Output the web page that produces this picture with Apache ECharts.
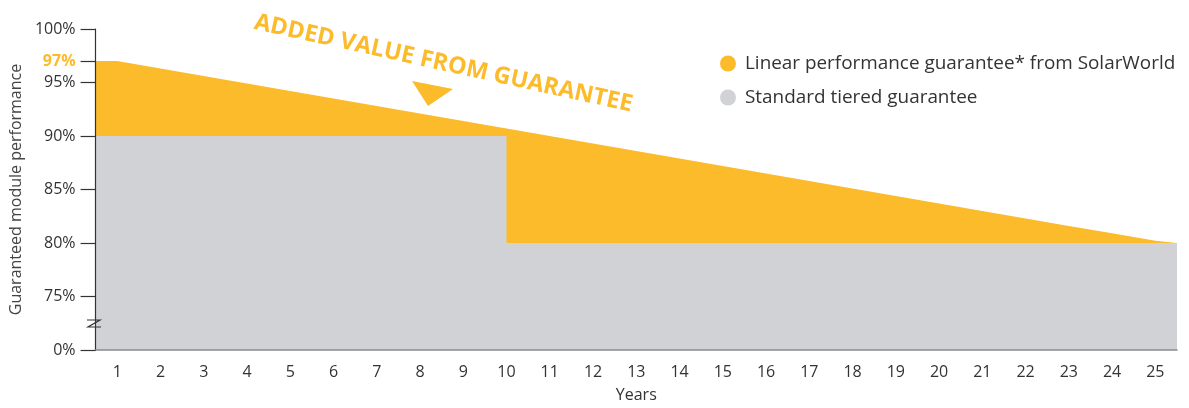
<!DOCTYPE html>
<html>
<head>
<meta charset="utf-8">
<script src="https://cdn.jsdelivr.net/npm/echarts@6/dist/echarts.min.js"></script>
<style>
  html, body { margin: 0; padding: 0; background: #fff; }
  #chart { width: 1189px; height: 408px; }
</style>
</head>
<body>
<div id="chart"></div>
<script>
// ---- data ----
const years = ['1','2','3','4','5','6','7','8','9','10','11','12','13','14','15','16','17','18','19','20','21','22','23','24','25'];
const linearGuarantee = [97, 96.3, 95.6, 94.9, 94.2, 93.5, 92.8, 92.1, 91.4, 90.7, 90.0, 89.3, 88.6, 87.9, 87.2, 86.5, 85.8, 85.1, 84.4, 83.7, 83.0, 82.3, 81.6, 80.9, 80.2];
const tieredGuarantee = [90, 90, 90, 90, 90, 90, 90, 90, 90, 90, 80, 80, 80, 80, 80, 80, 80, 80, 80, 80, 80, 80, 80, 80, 80];
const linearEdges = [97, 80];   // values at the left / right plot edges
const tieredEdges = [90, 80];
const yTicks = [70, 75, 80, 85, 90, 95, 97, 100];
const yTickLabels = ['0%', '75%', '80%', '85%', '90%', '95%', '97%', '100%'];
const seriesNames = ['Linear performance guarantee* from SolarWorld', 'Standard tiered guarantee'];

const ORANGE = '#FCBB2B';
const GRAY = '#D1D2D6';
const FONT = 'Open Sans';

function withEdges(vals, edges) {
  const pts = [[0.5, edges[0]]];
  vals.forEach((v, i) => pts.push([i + 1, v]));
  pts.push([years.length + 0.5, edges[1]]);
  return pts;
}

const chart = echarts.init(document.getElementById('chart'));
chart.setOption({
  animation: false,
  textStyle: { fontFamily: FONT },
  grid: { left: 95, top: 29, right: 12, bottom: 56 },
  legend: {
    orient: 'vertical',
    left: 715, top: 49,
    itemWidth: 24, itemHeight: 16, itemGap: 15,
    icon: 'circle',
    textStyle: { fontSize: 18.9, color: '#333', fontFamily: FONT },
    data: [
      { name: seriesNames[0], itemStyle: { color: ORANGE } },
      { name: seriesNames[1], itemStyle: { color: GRAY } }
    ]
  },
  xAxis: [
    {
      type: 'category', data: years, boundaryGap: true, z: 10,
      name: 'Years', nameLocation: 'middle', nameGap: 37,
      nameTextStyle: { fontSize: 16, color: '#333' },
      axisLine: { lineStyle: { color: '#8a8a8a', width: 1.5 } },
      axisTick: { show: false },
      axisLabel: { fontSize: 16, color: '#333', margin: 14 }
    },
    { type: 'value', min: 0.5, max: years.length + 0.5, show: false }
  ],
  yAxis: {
    type: 'value', min: 70, max: 100, interval: 5, z: 10,
    name: 'Guaranteed module performance', nameLocation: 'middle', nameGap: 70,
    nameTextStyle: { fontSize: 16, color: '#444' },
    axisLine: { show: true, lineStyle: { color: '#333', width: 1.2 } },
    axisTick: { show: true, length: 15, customValues: yTicks, lineStyle: { color: '#333', width: 1.2 } },
    splitLine: { show: false },
    axisLabel: {
      fontSize: 16, color: '#333', margin: 20,
      customValues: yTicks,
      formatter: function (v) {
        const idx = yTicks.indexOf(v);
        const t = idx >= 0 ? yTickLabels[idx] : '';
        return v === 97 ? '{hi|' + t + '}' : t;
      },
      rich: { hi: { color: ORANGE, fontWeight: 'bold', fontSize: 16, fontFamily: FONT } }
    }
  },
  series: [
    {
      name: seriesNames[0], type: 'line', xAxisIndex: 1, z: 2,
      data: withEdges(linearGuarantee, linearEdges),
      symbol: 'none', color: ORANGE, itemStyle: { color: ORANGE },
      lineStyle: { width: 0, opacity: 0 },
      areaStyle: { color: ORANGE, opacity: 1, origin: 'start' }
    },
    {
      name: seriesNames[1], type: 'line', xAxisIndex: 1, z: 3, step: 'start',
      data: withEdges(tieredGuarantee, tieredEdges),
      symbol: 'none', color: GRAY, itemStyle: { color: GRAY },
      lineStyle: { width: 0, opacity: 0 },
      areaStyle: { color: GRAY, opacity: 1, origin: 'start' }
    }
  ],
  graphic: [
    {
      type: 'text', x: 252, y: 34, rotation: -0.216, z: 20,
      style: {
        text: 'ADDED VALUE FROM GUARANTEE', fill: ORANGE,
        font: 'bold 23.5px "Open Sans"', textAlign: 'left', textVerticalAlign: 'bottom'
      }
    },
    {
      type: 'polygon', z: 20,
      shape: { points: [[412, 81], [453, 89], [428, 106]] },
      style: { fill: ORANGE }
    },
    {
      type: 'polyline', z: 20,
      shape: { points: [[87, 320], [100, 320], [88, 327], [101, 327]] },
      style: { stroke: '#333', lineWidth: 1.2, fill: null }
    }
  ]
});
</script>
</body>
</html>
